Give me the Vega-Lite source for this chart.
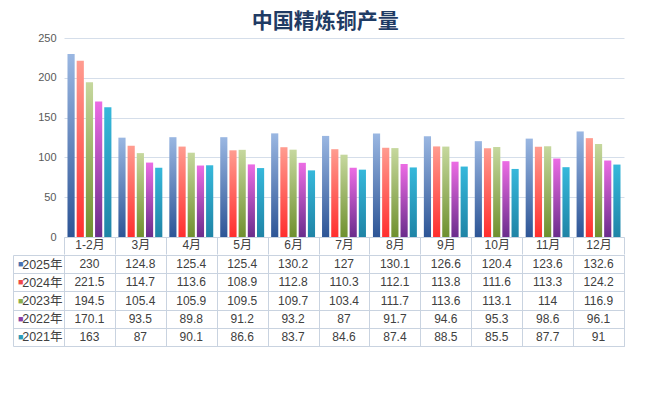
{
  "$schema": "https://vega.github.io/schema/vega-lite/v6.json",
  "padding": {"left": 12, "top": 11, "right": 28, "bottom": 8},
  "background": "white",
  "config": {"font": "Liberation Sans, Noto Sans CJK SC", "view": {"stroke": null}},
  "title": {"text": "中国精炼铜产量", "fontSize": 21, "font": "Noto Sans CJK SC", "fontWeight": "bold", "color": "#1F3B64", "anchor": "middle", "offset": 0, "dx": 7},
  "datasets": {
    "prod": [
      {"month": "1-2月", "year": "2025年", "value": 230},
      {"month": "3月", "year": "2025年", "value": 124.8},
      {"month": "4月", "year": "2025年", "value": 125.4},
      {"month": "5月", "year": "2025年", "value": 125.4},
      {"month": "6月", "year": "2025年", "value": 130.2},
      {"month": "7月", "year": "2025年", "value": 127},
      {"month": "8月", "year": "2025年", "value": 130.1},
      {"month": "9月", "year": "2025年", "value": 126.6},
      {"month": "10月", "year": "2025年", "value": 120.4},
      {"month": "11月", "year": "2025年", "value": 123.6},
      {"month": "12月", "year": "2025年", "value": 132.6},
      {"month": "1-2月", "year": "2024年", "value": 221.5},
      {"month": "3月", "year": "2024年", "value": 114.7},
      {"month": "4月", "year": "2024年", "value": 113.6},
      {"month": "5月", "year": "2024年", "value": 108.9},
      {"month": "6月", "year": "2024年", "value": 112.8},
      {"month": "7月", "year": "2024年", "value": 110.3},
      {"month": "8月", "year": "2024年", "value": 112.1},
      {"month": "9月", "year": "2024年", "value": 113.8},
      {"month": "10月", "year": "2024年", "value": 111.6},
      {"month": "11月", "year": "2024年", "value": 113.3},
      {"month": "12月", "year": "2024年", "value": 124.2},
      {"month": "1-2月", "year": "2023年", "value": 194.5},
      {"month": "3月", "year": "2023年", "value": 105.4},
      {"month": "4月", "year": "2023年", "value": 105.9},
      {"month": "5月", "year": "2023年", "value": 109.5},
      {"month": "6月", "year": "2023年", "value": 109.7},
      {"month": "7月", "year": "2023年", "value": 103.4},
      {"month": "8月", "year": "2023年", "value": 111.7},
      {"month": "9月", "year": "2023年", "value": 113.6},
      {"month": "10月", "year": "2023年", "value": 113.1},
      {"month": "11月", "year": "2023年", "value": 114},
      {"month": "12月", "year": "2023年", "value": 116.9},
      {"month": "1-2月", "year": "2022年", "value": 170.1},
      {"month": "3月", "year": "2022年", "value": 93.5},
      {"month": "4月", "year": "2022年", "value": 89.8},
      {"month": "5月", "year": "2022年", "value": 91.2},
      {"month": "6月", "year": "2022年", "value": 93.2},
      {"month": "7月", "year": "2022年", "value": 87},
      {"month": "8月", "year": "2022年", "value": 91.7},
      {"month": "9月", "year": "2022年", "value": 94.6},
      {"month": "10月", "year": "2022年", "value": 95.3},
      {"month": "11月", "year": "2022年", "value": 98.6},
      {"month": "12月", "year": "2022年", "value": 96.1},
      {"month": "1-2月", "year": "2021年", "value": 163},
      {"month": "3月", "year": "2021年", "value": 87},
      {"month": "4月", "year": "2021年", "value": 90.1},
      {"month": "5月", "year": "2021年", "value": 86.6},
      {"month": "6月", "year": "2021年", "value": 83.7},
      {"month": "7月", "year": "2021年", "value": 84.6},
      {"month": "8月", "year": "2021年", "value": 87.4},
      {"month": "9月", "year": "2021年", "value": 88.5},
      {"month": "10月", "year": "2021年", "value": 85.5},
      {"month": "11月", "year": "2021年", "value": 87.7},
      {"month": "12月", "year": "2021年", "value": 91}
    ]
  },
  "data": {"name": "prod"},
  "spacing": -8,
  "vconcat": [
    {
      "width": 560,
      "height": 199,
      "encoding": {
        "x": {
          "field": "month", "type": "nominal",
          "sort": ["1-2月","3月","4月","5月","6月","7月","8月","9月","10月","11月","12月"],
          "scale": {"paddingInner": 0, "paddingOuter": 0},
          "axis": {"title": null, "labelAngle": 0, "domainColor": "#C9D3E0", "tickColor": "#C9D3E0", "tickBand": "extent", "tickSize": 17, "labelPadding": -15, "labelFontSize": 12, "labelColor": "#404040"}
        },
        "xOffset": {
          "field": "year", "type": "nominal",
          "scale": {"domain": ["2025年","2024年","2023年","2022年","2021年"], "paddingInner": 0.22, "paddingOuter": 0.38}
        },
        "y": {
          "field": "value", "type": "quantitative",
          "scale": {"domain": [0, 250]},
          "axis": {"title": null, "values": [0, 50, 100, 150, 200, 250], "domain": false, "ticks": false, "gridColor": "#D5DEEA", "labelColor": "#595959", "labelFontSize": 11, "labelPadding": 8}
        }
      },
      "layer": [
        {"transform": [{"filter": "datum.year === '2025年'"}], "mark": {"type": "bar", "color": {"gradient": "linear", "x1": 0, "y1": 0, "x2": 0, "y2": 1, "stops": [{"offset": 0, "color": "#9AB7E2"}, {"offset": 1, "color": "#2D5596"}]}}},
        {"transform": [{"filter": "datum.year === '2024年'"}], "mark": {"type": "bar", "color": {"gradient": "linear", "x1": 0, "y1": 0, "x2": 0, "y2": 1, "stops": [{"offset": 0, "color": "#FF9C90"}, {"offset": 1, "color": "#FF2E2E"}]}}},
        {"transform": [{"filter": "datum.year === '2023年'"}], "mark": {"type": "bar", "color": {"gradient": "linear", "x1": 0, "y1": 0, "x2": 0, "y2": 1, "stops": [{"offset": 0, "color": "#C6D89E"}, {"offset": 1, "color": "#6F902F"}]}}},
        {"transform": [{"filter": "datum.year === '2022年'"}], "mark": {"type": "bar", "color": {"gradient": "linear", "x1": 0, "y1": 0, "x2": 0, "y2": 1, "stops": [{"offset": 0, "color": "#EC6CE4"}, {"offset": 1, "color": "#6A2D8C"}]}}},
        {"transform": [{"filter": "datum.year === '2021年'"}], "mark": {"type": "bar", "color": {"gradient": "linear", "x1": 0, "y1": 0, "x2": 0, "y2": 1, "stops": [{"offset": 0, "color": "#36B8DB"}, {"offset": 1, "color": "#1F84A6"}]}}}
      ]
    },
    {
      "width": 560,
      "height": 91,
      "view": {"stroke": "#C9D3E0"},
      "encoding": {
        "x": {
          "field": "month", "type": "nominal",
          "sort": ["1-2月","3月","4月","5月","6月","7月","8月","9月","10月","11月","12月"],
          "scale": {"paddingInner": 0, "paddingOuter": 0},
          "axis": {"title": null, "labels": false, "ticks": false, "domain": false, "grid": true, "tickBand": "extent", "gridColor": "#C9D3E0"}
        }
      },
      "layer": [
        {
          "mark": {"type": "text", "fontSize": 12, "color": "#404040"},
          "encoding": {
            "text": {"field": "value", "type": "nominal"},
            "y": {
              "field": "year", "type": "nominal",
              "sort": ["2025年","2024年","2023年","2022年","2021年"],
              "scale": {"paddingInner": 0, "paddingOuter": 0},
              "axis": {"title": null, "domain": false, "tickBand": "extent", "tickSize": 51, "tickColor": "#C9D3E0", "labelPadding": -49, "grid": true, "gridColor": "#C9D3E0", "labelFontSize": 12.5, "labelColor": "#404040"}
            }
          }
        },
        {
          "mark": {"type": "text", "opacity": 0},
          "encoding": {
            "text": {"field": "value", "type": "nominal"},
            "y": {
              "field": "year", "type": "nominal",
              "sort": ["2025年","2024年","2023年","2022年","2021年"],
              "scale": {"paddingInner": 0, "paddingOuter": 0},
              "axis": {
                "orient": "left", "title": null, "offset": 51, "domain": true, "domainColor": "#C9D3E0", "ticks": false, "grid": false,
                "labelExpr": "'■'", "labelFontSize": 9, "labelPadding": -10,
                "labelColor": {"condition": [
                  {"test": "datum.value === '2025年'", "value": "#4A72B0"},
                  {"test": "datum.value === '2024年'", "value": "#F04848"},
                  {"test": "datum.value === '2023年'", "value": "#8DAE4C"},
                  {"test": "datum.value === '2022年'", "value": "#8A3FA5"}
                ], "value": "#2D9AB7"}
              }
            }
          }
        }
      ],
      "resolve": {"axis": {"y": "independent"}}
    }
  ]
}
